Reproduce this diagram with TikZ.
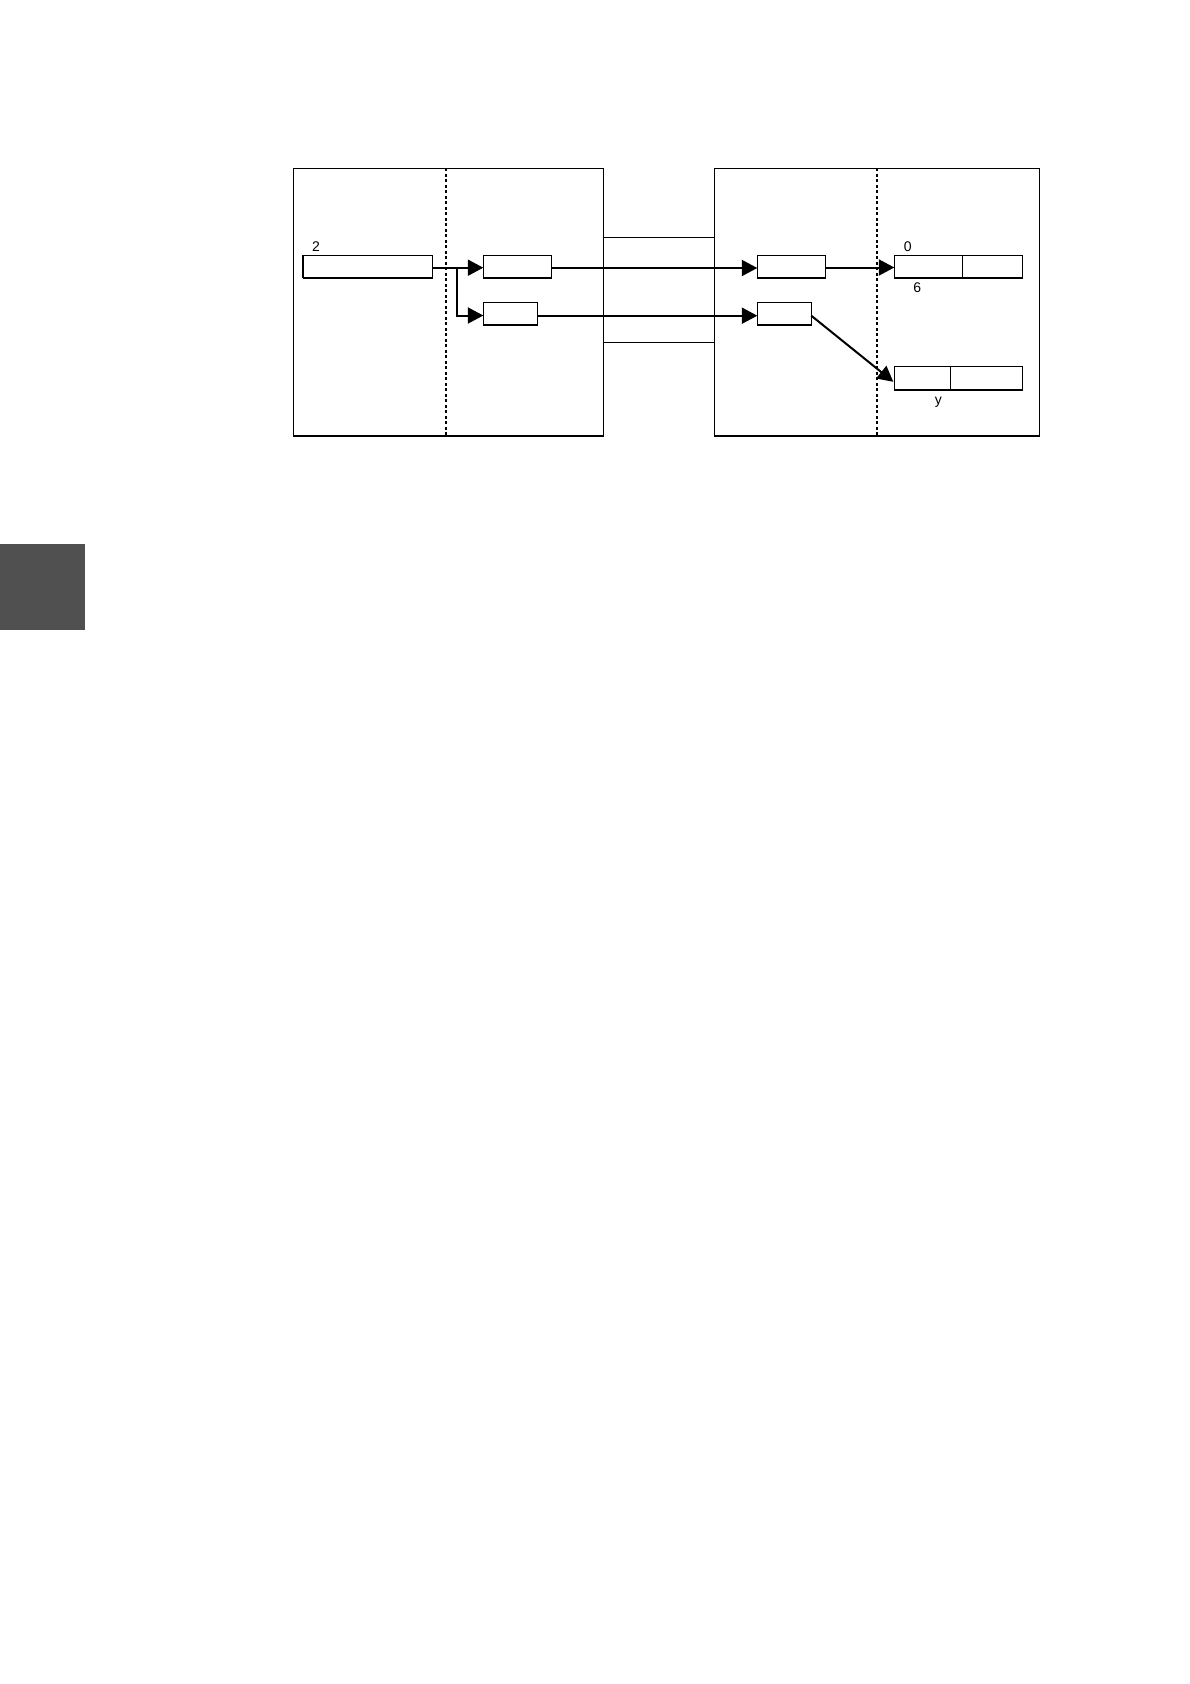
\documentclass[tikz,border=0pt]{standalone}
\usepackage{fontspec}
\setmainfont{Liberation Sans}
\usetikzlibrary{arrows.meta,calc}
\definecolor{tabgray}{RGB}{80,80,80}
\begin{document}
\begin{tikzpicture}[x=1pt,y=-1pt,
  frame/.style={draw, line width=1.3pt, rectangle, inner sep=0pt, outer sep=0pt},
  cell/.style={draw, line width=1.2pt, rectangle, inner sep=0pt, outer sep=0pt, minimum height=22.7pt},
  divider/.style={line width=2.1pt, dash pattern=on 3pt off 2.5pt},
  link/.style={line width=2pt, -{Triangle[length=15.5pt,width=16pt]}},
  channel/.style={line width=1.2pt},
  lbl/.style={font=\fontsize{14}{16}\selectfont, anchor=base, inner sep=0pt}
]
\useasboundingbox (0,0) rectangle (1190,1684);
% side tab
\fill[tabgray] (0,544) rectangle (85,630);
% frames
\node[frame, minimum width=310pt, minimum height=267.7pt] (lf) at (448.3,302.2) {};
\node[frame, minimum width=325pt, minimum height=267.7pt] (rf) at (876.8,302.2) {};
% dividers
\coordinate (ldt) at (445.7,168.3);
\coordinate (ldb) at (445.7,436);
\coordinate (rdt) at (876.7,168.3);
\coordinate (rdb) at (876.7,436);
\draw[divider] (ldt) -- (ldb);
\draw[divider] (rdt) -- (rdb);
% channel between frames
\coordinate (cha) at (603.3,237.3);
\coordinate (chb) at (714.3,237.3);
\coordinate (chc) at (603.3,342.7);
\coordinate (chd) at (714.3,342.7);
\draw[channel] (cha) -- (chb);
\draw[channel] (chc) -- (chd);
% cells
\node[cell, minimum width=129pt] (two) at (367.8,266.7) {};
\draw[line width=2pt] (two.north west) -- (two.south west);
\node[cell, minimum width=68pt] (a) at (517.3,266.7) {};
\node[cell, minimum width=54pt] (b) at (510.3,313.7) {};
\node[cell, minimum width=68pt] (c) at (791.3,266.7) {};
\node[cell, minimum width=54pt] (d) at (784.3,313.7) {};
\node[cell, minimum width=68pt] (el) at (928.3,266.7) {};
\node[cell, minimum width=60pt] (er) at (992.3,266.7) {};
\node[cell, minimum width=56pt, minimum height=23.3pt] (fl) at (922.3,378.3) {};
\node[cell, minimum width=72pt, minimum height=23.3pt] (fr) at (986.3,378.3) {};
% labels
\node[lbl] (l2) at (316,251) {2};
\node[lbl] (l0) at (907.7,251) {0};
\node[lbl] (l6) at (917.3,292.5) {6};
\node[lbl] (ly) at (938.3,404) {y};
% connectors
\coordinate (br) at (456.7,267.7);
\draw[link] ($(two.east)+(0,1)$) -- ($(a.west)+(0,1)$);
\draw[link] (br) |- ($(b.west)+(0,1.8)$);
\draw[link] ($(a.east)+(0,1.3)$) -- ($(c.west)+(0,1.3)$);
\draw[link] ($(b.east)+(0,2)$) -- ($(d.west)+(0,2)$);
\draw[link] ($(c.east)+(0,0.8)$) -- ($(el.west)+(0,0.8)$);
\draw[link] ($(d.east)+(0,2)$) -- ($(fl.west)+(-1,3.5)$);
\end{tikzpicture}
\end{document}
